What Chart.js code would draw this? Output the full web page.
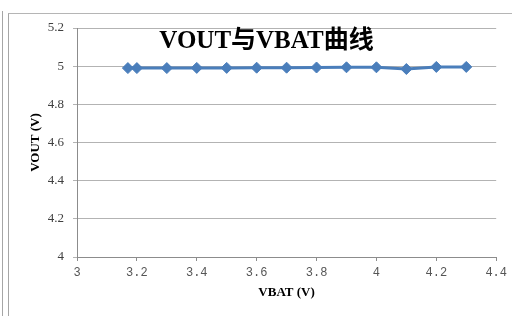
<!DOCTYPE html>
<html>
<head>
<meta charset="utf-8">
<script src="https://cdn.jsdelivr.net/npm/chart.js@4/dist/chart.umd.min.js"></script>
<style>
  body { margin: 0; background: #fff; }
  #wrap { position: relative; width: 512px; height: 316px; overflow: hidden; }
  #outer { position: absolute; left: 2px; top: 11px; width: 600px; height: 400px; border-left: 1px solid #a6a6a6; }
  #frame { position: absolute; left: 8px; top: 13px; width: 600px; height: 400px; border-left: 1px solid #a6a6a6; border-top: 1px solid #b5b5b5; }
  #title { position: absolute; left: 0; top: 27px; width: 533px; text-align: center;
    font: bold 25px "Liberation Serif", "Noto Sans CJK SC", serif; line-height: 26px; color: #000; }
</style>
</head>
<body>
<div id="wrap">
  <div id="outer"></div>
  <div id="frame"></div>
  <canvas id="chart" width="512" height="316" style="position:absolute;left:0;top:0"></canvas>
  <div id="title">VOUT与VBAT曲线</div>
</div>
<script>
// VBAT (V) vs VOUT (V)
const vbat = [3.17, 3.2, 3.3, 3.4, 3.5, 3.6, 3.7, 3.8, 3.9, 4.0, 4.1, 4.2, 4.3];
const vout = [4.99, 4.99, 4.99, 4.991, 4.991, 4.992, 4.992, 4.993, 4.994, 4.994, 4.985, 4.996, 4.996];

const xTickLabels = ['3', '3.2', '3.4', '3.6', '3.8', '4', '4.2', '4.4'];
const yTickLabels = ['4', '4.2', '4.4', '4.6', '4.8', '5', '5.2'];

const points = vbat.map((v, i) => ({ x: v, y: vout[i] }));

const ctx = document.getElementById('chart').getContext('2d');
new Chart(ctx, {
    type: 'scatter',
    data: {
        datasets: [{
            label: 'VOUT',
            data: points,
            showLine: true,
            borderColor: '#4a7ebb',
            backgroundColor: '#4a7ebb',
            borderWidth: 3,
            pointStyle: 'rectRot',
            pointRadius: 5.5,
            pointBorderWidth: 1
        }]
    },
    options: {
        responsive: false,
        animation: false,
        layout: { padding: { left: 20, top: 28, right: 14, bottom: 0 } },
        plugins: { legend: { display: false }, tooltip: { enabled: false } },
        scales: {
            x: {
                type: 'linear',
                min: 3,
                max: 4.4,
                afterFit: (axis) => { axis.height = 59; },
                afterBuildTicks: (axis) => {
                    axis.ticks = xTickLabels.map(t => ({ value: parseFloat(t) }));
                },
                ticks: {
                    callback: (v, i) => xTickLabels[i],
                    font: { family: 'Liberation Mono', size: 12 },
                    color: '#555',
                    padding: 5,
                    maxRotation: 0
                },
                grid: { display: true, drawOnChartArea: false, color: '#8c8c8c', tickLength: 4 },
                border: { color: '#8c8c8c' },
                title: {
                    display: true,
                    text: 'VBAT (V)',
                    font: { family: 'Liberation Serif', size: 13, weight: 'bold' },
                    color: '#000',
                    padding: { top: 0, bottom: 16 }
                }
            },
            y: {
                min: 4,
                max: 5.2,
                afterFit: (axis) => { axis.width = 57; },
                afterBuildTicks: (axis) => {
                    axis.ticks = yTickLabels.map(t => ({ value: parseFloat(t) }));
                },
                ticks: {
                    callback: (v, i) => yTickLabels[i],
                    font: { family: 'Liberation Serif', size: 13 },
                    color: '#404040',
                    padding: 9
                },
                grid: { color: '#b3b3b3', tickLength: 4 },
                border: { color: '#8c8c8c' },
                title: {
                    display: true,
                    text: 'VOUT (V)',
                    font: { family: 'Liberation Serif', size: 13, weight: 'bold' },
                    color: '#000',
                    padding: { top: 8, bottom: 0 }
                }
            }
        }
    }
});
</script>
</body>
</html>
